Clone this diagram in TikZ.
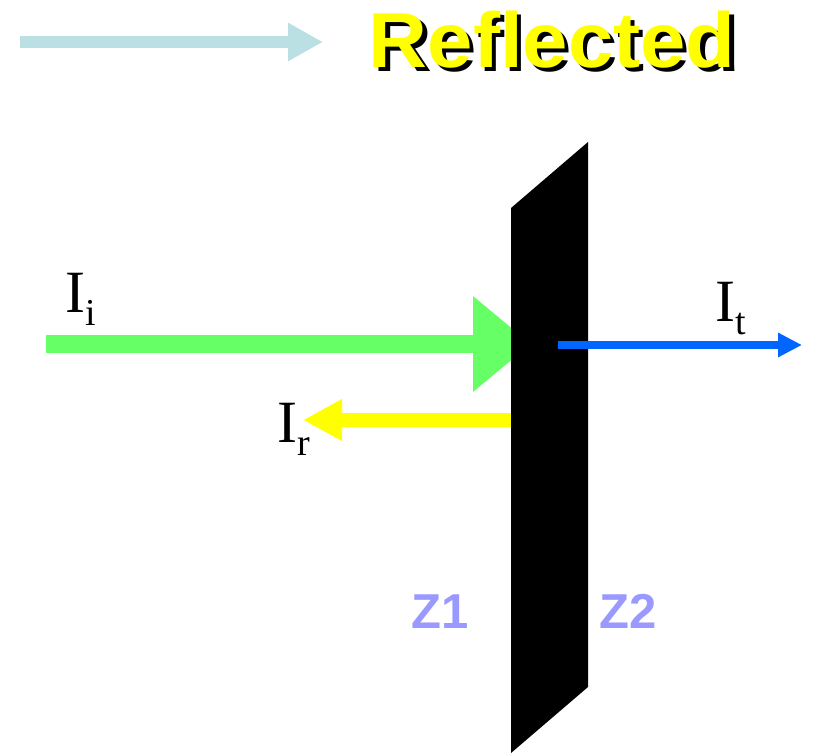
\documentclass[tikz,border=0pt]{standalone}
\usepackage{fontspec}
\setmainfont{Liberation Serif}
\newfontfamily\headfont{Liberation Sans}[BoldFont={Liberation Sans Bold}]
\usepackage{tikz}
\usetikzlibrary{arrows.meta}

\definecolor{hintblue}{HTML}{BBE0E3}
\definecolor{incgreen}{HTML}{66FF66}
\definecolor{refyellow}{HTML}{FFFF00}
\definecolor{transblue}{HTML}{0066FF}
\definecolor{zlabel}{HTML}{9999FF}

\newcommand{\intens}[2]{\fontsize{30}{30}\selectfont I\raisebox{-6.5pt}{\fontsize{19}{19}\selectfont #2}}
\newcommand{\shadowed}[1]{\makebox[0pt][l]{\hspace{2pt}\raisebox{-2pt}{\color{black}#1}}#1}

\begin{document}
\begin{tikzpicture}[thick,x=0.5pt,y=-0.5pt]
        \tikzset{ilabel/.style={anchor=base west, inner sep=0pt}}
        \tikzset{zname/.style={anchor=base west, inner sep=0pt, text=zlabel, font=\headfont\bfseries\fontsize{24.5}{24.5}\selectfont}}
        \useasboundingbox (0,0) rectangle (817,753);

	%---NODES---	 
        \coordinate (h1) at (20,42);
        \coordinate (h2) at (323,42);

        \coordinate (g1) at (46,344);
        \coordinate (g2) at (531,344);

        \coordinate (y1) at (511,420);
        \coordinate (y2) at (303,420);

        \coordinate (b1) at (558,345);
        \coordinate (b2) at (802,345);

        \node[anchor=base west, inner sep=0pt, text=refyellow, xscale=1.045, font=\headfont\bfseries\fontsize{39}{39}\selectfont] (title) at (368,68) {\shadowed{Reflected}};

        \node[ilabel] (Ii) at (65,312) {\intens{i}{i}};
        \node[ilabel] (It) at (715,321) {\intens{t}{t}};
        \node[ilabel] (Ir) at (277,442) {\intens{r}{r}};

        \node[zname] (Z1) at (411,628) {Z1};
        \node[zname] (Z2) at (599,628) {Z2};

	%---EDGES---	 
        \draw[-{Triangle[length=17.5pt,width=18pt]}, draw=hintblue, fill=hintblue, line width=6pt] (h1) -- (h2) ;
        \draw[-{Triangle[length=29pt,width=46pt]}, draw=incgreen, fill=incgreen, line width=9pt] (g1) -- (g2) ;
        \draw[-{Triangle[length=19.5pt,width=19.5pt]}, draw=refyellow, fill=refyellow, line width=7pt] (y1) -- (y2) ;

	%---PLATE---	 
        \fill[black] (511,208) -- (588,142) -- (588,687) -- (511,753) -- cycle ;

        \draw[-{Triangle[length=12pt,width=11.5pt]}, draw=transblue, fill=transblue, line width=4pt] (b1) -- (b2) ;
    \end{tikzpicture}
\end{document}
